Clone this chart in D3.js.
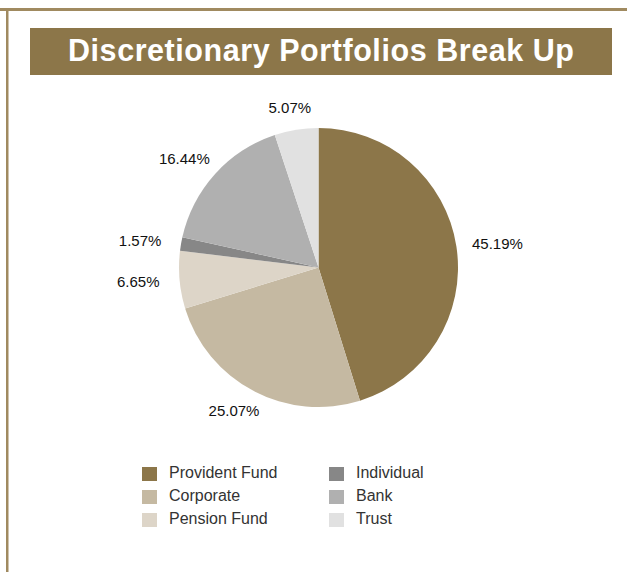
<!DOCTYPE html>
<html>
<head>
<meta charset="utf-8">
<script src="https://cdn.jsdelivr.net/npm/d3@7"></script>
<style>
  body { margin: 0; background: #fff; }
  svg text { font-family: "Liberation Sans", Arial, Helvetica, sans-serif; }
</style>
</head>
<body>
<div id="chart"></div>
<script>
const width = 627, height = 572;

// data
const categories = ["Provident Fund", "Corporate", "Pension Fund", "Individual", "Bank", "Trust"];
const shares = [45.19, 25.07, 6.65, 1.57, 16.44, 5.07];
const colours = ["#8c7649", "#c5b9a2", "#ddd5c8", "#878787", "#b0b0b0", "#e1e1e1"];
const title = "Discretionary Portfolios Break Up";

const data = categories.map((c, i) => ({ name: c, value: shares[i] }));

const svg = d3.select("#chart").append("svg")
    .attr("width", width)
    .attr("height", height);

// frame lines (top and left)
svg.append("rect").attr("x", 0).attr("y", 8).attr("width", width).attr("height", 3).attr("fill", "#a08a60");
svg.append("rect").attr("x", 6).attr("y", 8).attr("width", 2.5).attr("height", height).attr("fill", "#a08a60");

// title bar
svg.append("rect")
    .attr("x", 30).attr("y", 28)
    .attr("width", 582).attr("height", 47)
    .attr("fill", "#8c7649");
svg.append("text")
    .attr("x", 68).attr("y", 60.5)
    .attr("fill", "#fff")
    .attr("font-weight", "bold")
    .attr("font-size", 30.5)
    .attr("textLength", 506)
    .attr("lengthAdjust", "spacing")
    .text(title);

// pie
const cx = 318.5, cy = 267.5, r = 139.5;
const g = svg.append("g").attr("transform", `translate(${cx},${cy})`);

const pie = d3.pie().sort(null).value(d => d.value);
const arc = d3.arc().innerRadius(0).outerRadius(r);
const arcs = pie(data);

g.selectAll("path.slice")
    .data(arcs)
    .enter().append("path")
    .attr("class", "slice")
    .attr("d", arc)
    .attr("fill", (d, i) => colours[i]);

// labels outside, centred on a slightly flattened ring around the pie
const labelRx = 181, labelRy = 162;
g.selectAll("text.lbl")
    .data(arcs)
    .enter().append("text")
    .attr("class", "lbl")
    .attr("font-size", 15)
    .attr("fill", "#111")
    .attr("text-anchor", "middle")
    .attr("dy", "0.36em")
    .attr("x", d => labelRx * Math.sin((d.startAngle + d.endAngle) / 2))
    .attr("y", d => -labelRy * Math.cos((d.startAngle + d.endAngle) / 2))
    .text(d => d.data.value.toFixed(2) + "%");

// legend
const legend = svg.append("g");
const colX = [142, 329], rowY = [467, 490, 513];
legend.selectAll("g.item")
    .data(data)
    .enter().append("g")
    .attr("class", "item")
    .attr("transform", (d, i) => `translate(${colX[Math.floor(i / 3)]},${rowY[i % 3]})`)
    .each(function (d, i) {
        const it = d3.select(this);
        it.append("rect").attr("width", 15).attr("height", 14).attr("fill", colours[i]);
        it.append("text")
            .attr("x", 27).attr("y", 10.5)
            .attr("font-size", 16)
            .attr("fill", "#333")
            .text(d.name);
    });
</script>
</body>
</html>
